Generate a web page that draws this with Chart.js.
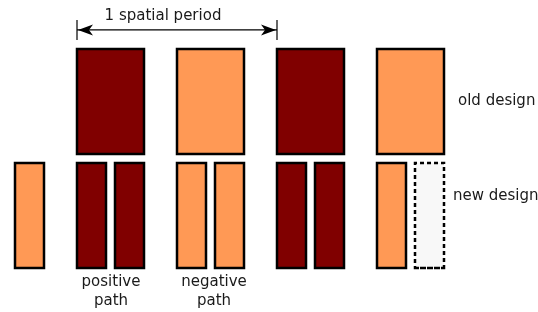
<!DOCTYPE html>
<html>
<head>
<meta charset="utf-8">
<script src="https://cdn.jsdelivr.net/npm/chart.js@4/dist/chart.umd.min.js"></script>
<style>
html,body{margin:0;padding:0;background:#fff;}
#wrap{width:538px;height:312px;}
</style>
</head>
<body>
<div id="wrap"><canvas id="c" width="538" height="312"></canvas></div>
<script>
// ---- data (x in spatial periods, y in row heights) ----
const OLD_STARTS = [0, 1, 2, 3];
const OLD_POLARITY = ['pos', 'neg', 'pos', 'neg'];
const OLD_WIDTH = 0.67;
const NEW_STARTS = [-0.62, 0, 0.38, 1, 1.38, 2, 2.38, 3, 3.38];
const NEW_POLARITY = ['neg', 'pos', 'pos', 'neg', 'neg', 'pos', 'pos', 'neg', 'empty'];
const NEW_WIDTH = 0.29;
const OLD_ROW = [1.086, 2.086];
const NEW_ROW = [0, 1];
const ROW_LABELS = ['old design', 'new design'];
const PATH_LABELS = [['positive', 'path'], ['negative', 'path']];
const PATH_CENTERS = [0.34, 1.37];
const PERIOD_LABEL = '1 spatial period';
const PERIOD_SPAN = [0, 2];

const FILLS = {pos: '#800000', neg: '#ff9955', empty: '#f8f8f8'};
const TEXT = '#1a1a1a';
const FONT = '15px "DejaVu Sans", sans-serif';

function rect(x0, x1, row, pol) {
  const [y0, y1] = row;
  return {
    data: [{x:x0,y:y0},{x:x1,y:y0},{x:x1,y:y1},{x:x0,y:y1},{x:x0,y:y0},{x:x1,y:y0}],
    showLine: true,
    fill: 'shape',
    backgroundColor: FILLS[pol],
    borderColor: '#000',
    borderWidth: 2.5,
    borderDash: pol === 'empty' ? [4, 3] : [],
    borderJoinStyle: 'miter',
    borderCapStyle: 'butt',
    pointRadius: 0,
    tension: 0,
    clip: false
  };
}

const datasets = [];
OLD_STARTS.forEach((s, i) => datasets.push(rect(s, s + OLD_WIDTH, OLD_ROW, OLD_POLARITY[i])));
NEW_STARTS.forEach((s, i) => datasets.push(rect(s, s + NEW_WIDTH, NEW_ROW, NEW_POLARITY[i])));

// dimension line
const ARROW_Y = 2.267;
const TICK_SPAN = [2.171, 2.362];
const lineStyle = {showLine:true, fill:false, borderColor:'#000', borderWidth:1.2, pointRadius:0, clip:false};
datasets.push(Object.assign({data:[{x:PERIOD_SPAN[0],y:ARROW_Y},{x:PERIOD_SPAN[1],y:ARROW_Y}]}, lineStyle));
datasets.push(Object.assign({data:[{x:PERIOD_SPAN[0],y:TICK_SPAN[0]},{x:PERIOD_SPAN[0],y:TICK_SPAN[1]}]}, lineStyle));
datasets.push(Object.assign({data:[{x:PERIOD_SPAN[1],y:TICK_SPAN[0]},{x:PERIOD_SPAN[1],y:TICK_SPAN[1]}]}, lineStyle));

const annot = {
  id: 'annot',
  afterDatasetsDraw(chart) {
    const {ctx, scales:{x, y}} = chart;
    ctx.save();
    // arrowheads
    const ay = y.getPixelForValue(ARROW_Y);
    [[PERIOD_SPAN[0], 1], [PERIOD_SPAN[1], -1]].forEach(([v, d]) => {
      const px = x.getPixelForValue(v) + d * 1;
      ctx.beginPath();
      ctx.moveTo(px, ay);
      ctx.lineTo(px + d * 15, ay - 5.5);
      ctx.lineTo(px + d * 11, ay);
      ctx.lineTo(px + d * 15, ay + 5.5);
      ctx.closePath();
      ctx.fillStyle = '#000';
      ctx.fill();
    });
    ctx.fillStyle = TEXT;
    ctx.font = FONT;
    ctx.textBaseline = 'middle';
    ctx.textAlign = 'center';
    ctx.fillText(PERIOD_LABEL, x.getPixelForValue((PERIOD_SPAN[0] + PERIOD_SPAN[1]) / 2 - 0.14), y.getPixelForValue(2.40));
    ctx.textAlign = 'left';
    ctx.fillText(ROW_LABELS[0], x.getPixelForValue(3.81), y.getPixelForValue(1.59));
    ctx.fillText(ROW_LABELS[1], x.getPixelForValue(3.76), y.getPixelForValue(0.686));
    ctx.textAlign = 'center';
    PATH_LABELS.forEach((lines, i) => {
      lines.forEach((t, j) => {
        ctx.fillText(t, x.getPixelForValue(PATH_CENTERS[i]), y.getPixelForValue(-0.133 - 0.181 * j));
      });
    });
    ctx.restore();
  }
};

new Chart(document.getElementById('c'), {
  type: 'scatter',
  data: {datasets},
  options: {
    responsive: false,
    animation: false,
    layout: {padding: 0},
    plugins: {legend: {display:false}, tooltip: {enabled:false}},
    scales: {
      x: {type:'linear', display:false, min:-0.77, max:4.61},
      y: {type:'linear', display:false, min:-0.419, max:2.552}
    }
  },
  plugins: [annot]
});
</script>
</body>
</html>
